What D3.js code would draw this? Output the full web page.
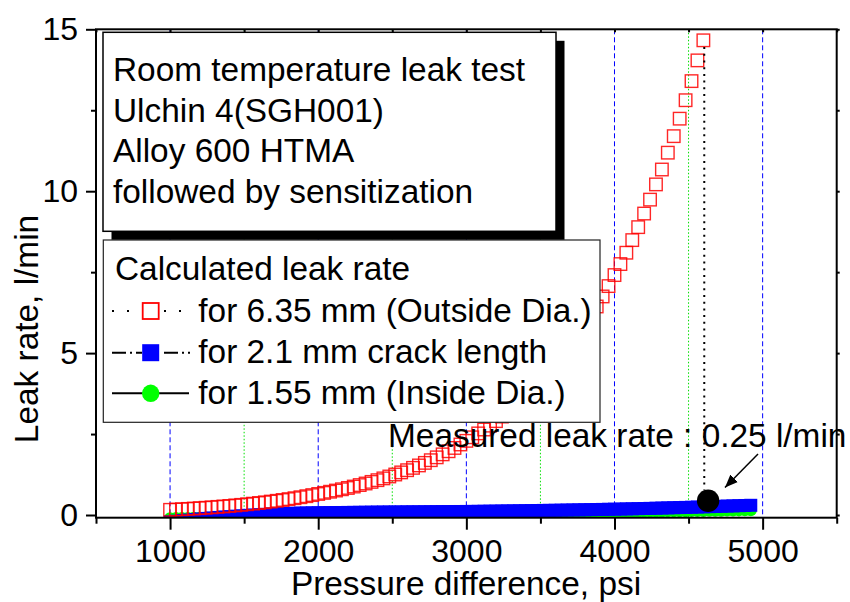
<!DOCTYPE html>
<html><head><meta charset="utf-8">
<script src="https://cdn.jsdelivr.net/npm/d3@7"></script>
<style>body{margin:0;background:#fff} text{font-family:"Liberation Sans",Arial,Helvetica,sans-serif}</style>
</head><body><svg id="c" width="850" height="602"></svg>
<script>
const pressure=[1000,1040,1080,1120,1160,1200,1240,1280,1320,1360,1400,1440,1480,1520,1560,1600,1640,1680,1720,1760,1800,1840,1880,1920,1960,
2000,2040,2080,2120,2160,2200,2240,2280,2320,2360,2400,2440,2480,2520,2560,2600,2640,2680,2720,2760,2800,2840,2880,2920,2960,
3000,3040,3080,3120,3160,3200,3240,3280,3320,3360,3400,3440,3480,3520,3560,3600,3640,3680,3720,3760,3800,3840,3880,3920,3960,
4000,4040,4080,4120,4160,4200,4240,4280,4320,4360,4400,4440,4480,4520,4560,4600,4640,4680,4720,4760,4800,4840,4880,4920];
const redLeak=[0.160,0.169,0.179,0.189,0.200,0.212,0.224,0.237,0.251,0.265,0.280,0.297,0.314,0.332,0.351,0.371,0.392,0.415,0.439,0.464,0.491,0.519,0.549,0.581,0.615,
0.650,0.684,0.719,0.756,0.795,0.836,0.879,0.925,0.973,1.023,1.076,1.131,1.190,1.251,1.316,1.384,1.456,1.531,1.610,1.693,1.781,1.873,1.969,2.071,2.178,
2.29,2.40,2.52,2.64,2.76,2.90,3.04,3.18,3.34,3.50,3.66,3.84,4.02,4.22,4.42,4.63,4.86,5.09,5.33,5.59,5.86,6.14,6.44,6.75,7.07,
7.41,7.75,8.10,8.49,8.89,9.31,9.74,10.21,10.67,11.19,11.70,12.24,12.81,13.40,14.04,14.66];
const blueLeak=[-0.21,-0.19,-0.17,-0.155,-0.14,-0.12,-0.105,-0.09,-0.075,-0.06,-0.05,-0.035,-0.025,-0.01,0.0,0.01,0.02,0.03,0.035,0.045,0.05,0.055,0.06,0.063,0.067,
0.07,0.072,0.074,0.076,0.078,0.08,0.082,0.084,0.086,0.088,0.09,0.091,0.093,0.094,0.095,0.097,0.098,0.099,0.10,0.102,0.103,0.105,0.106,0.107,0.109,
0.11,0.112,0.114,0.117,0.119,0.121,0.124,0.126,0.128,0.131,0.133,0.136,0.139,0.142,0.144,0.147,0.150,0.153,0.156,0.159,0.163,0.166,0.170,0.173,0.177,
0.18,0.184,0.188,0.192,0.196,0.201,0.205,0.210,0.215,0.220,0.225,0.230,0.235,0.240,0.246,0.252,0.258,0.264,0.270,0.276,0.282,0.288,0.294,0.30];
const greenLeak=[-0.10,-0.096,-0.093,-0.09,-0.087,-0.084,-0.08,-0.077,-0.074,-0.071,-0.068,-0.064,-0.061,-0.058,-0.055,-0.052,-0.048,-0.045,-0.042,-0.039,-0.036,-0.032,-0.029,-0.026,-0.023,
-0.02,-0.018,-0.015,-0.013,-0.01,-0.008,-0.006,-0.003,-0.001,0.002,0.004,0.006,0.009,0.011,0.014,0.016,0.018,0.021,0.023,0.026,0.028,0.03,0.033,0.035,0.038,
0.04,0.042,0.045,0.047,0.050,0.052,0.054,0.057,0.059,0.062,0.064,0.066,0.069,0.071,0.073,0.075,0.077,0.079,0.081,0.083,0.085,0.087,0.089,0.091,0.093,
0.095,0.097,0.099,0.101,0.103,0.105,0.107,0.109,0.111,0.113,0.115,0.117,0.119,0.121,0.124,0.126,0.129,0.131,0.134,0.137,0.140,0.143,0.146,0.15];
const xMajorTicks=[1000,2000,3000,4000,5000];
const xMinorTicks=[500,1500,2500,3500,4500,5500];
const yMajorTicks=[0,5,10,15];
const yMinorTicks=[2.5,7.5,12.5];
const titleLines=["Room temperature leak test","Ulchin 4(SGH001)","Alloy 600 HTMA","followed by sensitization"];
const legendTitle="Calculated leak rate";
const seriesLabels=["for 6.35 mm (Outside Dia.)","for 2.1 mm crack length","for 1.55 mm (Inside Dia.)"];
const measuredPoint=[4632,0.44];
const measuredLabel="Measured leak rate : 0.25 l/min";
const xTitle="Pressure difference, psi";
const yTitle="Leak rate, l/min";

const svg=d3.select("#c");
const x=d3.scaleLinear([500,5500],[96,836.7]);
const y=d3.scaleLinear([-0.083,15],[517.7,29.3]);
const FS=33.4;

svg.append("defs").append("clipPath").attr("id","plot").append("rect")
  .attr("x",x(500)).attr("y",y(15)).attr("width",x(5500)-x(500)).attr("height",y(-0.083)-y(15));

// grid lines
const g=svg.append("g");
g.selectAll(".gb").data(xMajorTicks).join("line")
  .attr("x1",d=>x(d)).attr("x2",d=>x(d)).attr("y1",y(15)).attr("y2",y(-0.083))
  .attr("stroke","#0000ff").attr("stroke-width",1).attr("stroke-dasharray","5,3");
g.selectAll(".gg").data(xMinorTicks.slice(1,-1)).join("line")
  .attr("x1",d=>x(d)).attr("x2",d=>x(d)).attr("y1",y(15)).attr("y2",y(-0.083))
  .attr("stroke","#00e000").attr("stroke-width",1).attr("stroke-dasharray","1.5,2");

const plot=svg.append("g").attr("clip-path","url(#plot)");
// green circles
plot.append("g").selectAll("circle").data(pressure.map((p,i)=>[p,greenLeak[i]])).join("circle")
  .attr("cx",d=>x(d[0])).attr("cy",d=>y(d[1])).attr("r",6).attr("fill","#00ff00");
// blue squares
const bs=13;
plot.append("g").selectAll("rect").data(pressure.map((p,i)=>[p,blueLeak[i]])).join("rect")
  .attr("x",d=>x(d[0])-bs/2).attr("y",d=>y(d[1])-bs/2).attr("width",bs).attr("height",bs).attr("fill","#0000ff");
// red open squares
const rs=12.5;
plot.append("g").selectAll("rect").data(redLeak.map((v,i)=>[pressure[i],v])).join("rect")
  .attr("x",d=>x(d[0])-rs/2).attr("y",d=>y(d[1])-rs/2).attr("width",rs).attr("height",rs)
  .attr("fill","none").attr("stroke","#ff0000").attr("stroke-width",1.4).attr("stroke-opacity",0.85);

// vertical dotted line to measured point
svg.append("line").attr("x1",x(4606)).attr("x2",x(4606)).attr("y1",y(14.45)).attr("y2",y(measuredPoint[1])-11)
  .attr("stroke","#000").attr("stroke-width",2).attr("stroke-dasharray","2,4.7");

// title box with shadow
svg.append("rect").attr("x",111.5).attr("y",40.8).attr("width",453).attr("height",199).attr("fill","#000");
svg.append("rect").attr("x",103).attr("y",32.3).attr("width",453).attr("height",199).attr("fill","#fff").attr("stroke","#000").attr("stroke-width",1.5);
svg.append("g").selectAll("text").data(titleLines).join("text")
  .attr("x",113).attr("y",(d,i)=>81+i*40.5).attr("font-size",FS).attr("fill","#000").text(d=>d);

// legend box
svg.append("rect").attr("x",103.3).attr("y",240).attr("width",496.7).attr("height",182.3).attr("fill","#fff").attr("stroke","#222").attr("stroke-width",1.2);
svg.append("text").attr("x",115).attr("y",280).attr("font-size",FS).text(legendTitle);
const rowY=[311,352.7,393.3];
svg.append("g").selectAll("text").data(seriesLabels).join("text")
  .attr("x",198.3).attr("y",(d,i)=>rowY[i]+10.7).attr("font-size",FS).text(d=>d);
const lg=svg.append("g");
// red row: dotted
lg.append("line").attr("x1",112).attr("x2",142).attr("y1",rowY[0]).attr("y2",rowY[0]).attr("stroke","#000").attr("stroke-width",2).attr("stroke-dasharray","2,13");
lg.append("line").attr("x1",164).attr("x2",190).attr("y1",rowY[0]).attr("y2",rowY[0]).attr("stroke","#000").attr("stroke-width",2).attr("stroke-dasharray","2,13");
lg.append("rect").attr("x",150.7-8).attr("y",rowY[0]-8).attr("width",16).attr("height",16).attr("fill","#fff").attr("stroke","#ff0000").attr("stroke-width",1.8);
// blue row: dash-dot
lg.append("line").attr("x1",112).attr("x2",142).attr("y1",rowY[1]).attr("y2",rowY[1]).attr("stroke","#000").attr("stroke-width",2).attr("stroke-dasharray","14,4,2,4");
lg.append("line").attr("x1",164).attr("x2",190).attr("y1",rowY[1]).attr("y2",rowY[1]).attr("stroke","#000").attr("stroke-width",2).attr("stroke-dasharray","14,4,2,4");
lg.append("rect").attr("x",150.7-8.5).attr("y",rowY[1]-8.5).attr("width",17).attr("height",17).attr("fill","#0000ff");
// green row: solid
lg.append("line").attr("x1",112).attr("x2",189).attr("y1",rowY[2]).attr("y2",rowY[2]).attr("stroke","#000").attr("stroke-width",2);
lg.append("circle").attr("cx",150.7).attr("cy",rowY[2]).attr("r",8.7).attr("fill","#00ff00");

// annotation
svg.append("text").attr("x",388).attr("y",446.7).attr("font-size",FS).text(measuredLabel);
svg.append("defs").append("marker").attr("id","ah").attr("viewBox","0 0 10 10").attr("refX",10).attr("refY",5)
  .attr("markerWidth",13).attr("markerHeight",13).attr("markerUnits","userSpaceOnUse").attr("orient","auto")
  .append("path").attr("d","M0,1 L10,5 L0,9 Z").attr("fill","#000");
svg.append("line").attr("x1",758).attr("y1",454).attr("x2",725).attr("y2",487.5).attr("stroke","#000").attr("stroke-width",1.5).attr("marker-end","url(#ah)");
svg.append("circle").attr("cx",x(measuredPoint[0])).attr("cy",y(measuredPoint[1])).attr("r",11.2).attr("fill","#000");

// axes
const ax=svg.append("g");
function styleAxis(sel){sel.select(".domain").remove();sel.selectAll("line").attr("stroke","#000").attr("stroke-width",2);
  sel.selectAll("text").attr("font-size",32).attr("fill","#000").attr("font-family","'Liberation Sans',Arial,sans-serif");}
ax.append("g").attr("transform",`translate(0,${y(-0.083)})`)
  .call(d3.axisBottom(x).tickValues(xMajorTicks).tickSize(12).tickPadding(10).tickFormat(d3.format("d"))).call(styleAxis);
ax.append("g").attr("transform",`translate(0,${y(-0.083)})`)
  .call(d3.axisBottom(x).tickValues(xMinorTicks).tickSize(6).tickFormat("")).call(styleAxis);
ax.append("g").attr("transform",`translate(${x(500)},0)`)
  .call(d3.axisLeft(y).tickValues(yMajorTicks).tickSize(10).tickPadding(8).tickFormat(d3.format("d"))).call(styleAxis);
ax.append("g").attr("transform",`translate(${x(500)},0)`)
  .call(d3.axisLeft(y).tickValues(yMinorTicks).tickSize(5).tickFormat("")).call(styleAxis);
ax.append("g").attr("transform",`translate(0,${y(15)})`)
  .call(d3.axisBottom(x).tickValues(xMajorTicks.concat(xMinorTicks)).tickSize(3).tickFormat("")).call(styleAxis);
ax.append("g").attr("transform",`translate(${x(5500)},0)`)
  .call(d3.axisRight(y).tickValues(yMajorTicks.concat(yMinorTicks)).tickSize(3).tickFormat("")).call(styleAxis);
ax.append("rect").attr("x",x(500)).attr("y",y(15)).attr("width",x(5500)-x(500)).attr("height",y(-0.083)-y(15))
  .attr("fill","none").attr("stroke","#000").attr("stroke-width",2);

svg.append("text").attr("x",466).attr("y",595).attr("text-anchor","middle").attr("font-size",FS).text(xTitle);
svg.append("text").attr("transform","translate(38,329) rotate(-90)").attr("text-anchor","middle").attr("font-size",FS).text(yTitle);
</script></body></html>
